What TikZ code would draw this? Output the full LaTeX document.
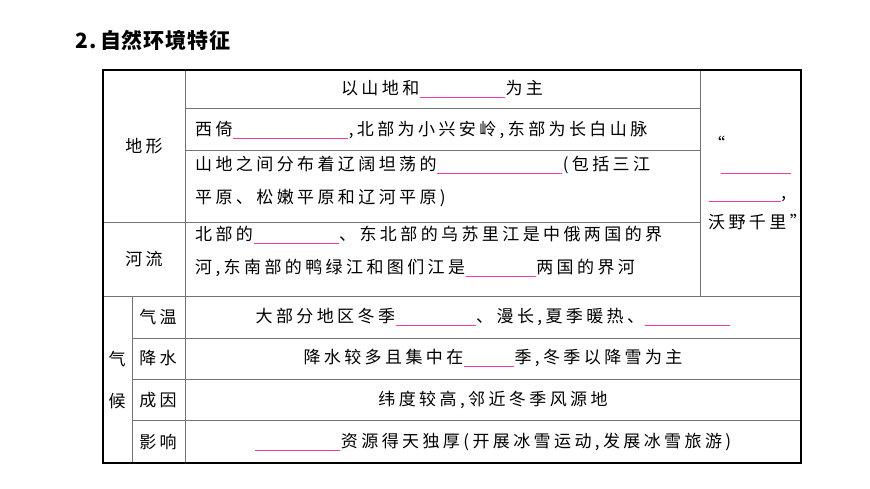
\documentclass[tikz,border=0pt]{standalone}
\usepackage{fontspec}
\setmainfont{Noto Sans CJK SC}[LetterSpace=20]
\newfontfamily\titlefont{Noto Sans CJK SC}[LetterSpace=4]
\usetikzlibrary{positioning}
\definecolor{blankpink}{RGB}{240,60,170}
\tikzstyle{cell}=[anchor=center, font=\fontsize{17}{33}\selectfont, inner sep=0pt]
\tikzstyle{rule}=[draw=black!55, line width=0.9pt]
\tikzstyle{blank}=[draw=blankpink, line width=1.2pt]
\newcommand{\gap}[1]{\tikz[baseline=0pt]\draw[blank] (0,-3pt) -- (#1,-3pt);}

\begin{document}
\begin{tikzpicture}[x=1pt,y=-1pt]
        \useasboundingbox (0,0) rectangle (870,489);
        \node (title) [anchor=west, font=\titlefont\fontsize{21}{24}\selectfont\bfseries] at (72,40) {2.\,自然环境特征};
        % inner rules
        \draw[rule] (185,70) -- (185,463);
        \draw[rule] (700,70) -- (700,296);
        \draw[rule] (132,296) -- (132,463);
        \draw[rule] (185,108) -- (700,108);
        \draw[rule] (185,150) -- (700,150);
        \draw[rule] (103,222) -- (700,222);
        \draw[rule] (103,296) -- (801,296);
        \foreach \yy in {338,379,420} \draw[rule] (132,\yy) -- (801,\yy);
        \draw[line width=1.3pt] (103,70) rectangle (801,463);
        % left headers
        \node (dixing) [cell] at (144,146) {地形};
        \node (heliu) [cell] at (144,259) {河流};
        \node (qihou) [cell, align=center, font=\fontsize{17}{42}\selectfont] at (117,380) {气\\候};
        \node (qiwen) [cell] at (158,317) {气温};
        \node (jiangshui) [cell] at (158,358) {降水};
        \node (chengyin) [cell] at (158,400) {成因};
        \node (yingxiang) [cell] at (158,442) {影响};
        % terrain
        \node (t1) [cell] at (442,89) {以山地和\gap{85}为主};
        \node (t2) [cell, anchor=west] at (195,130) {西倚\gap{115},北部为小兴安岭,东部为长白山脉};
        \node (t3) [cell, anchor=north west, align=left, text width=500] at (195,156) {山地之间分布着辽阔坦荡的\gap{125}(包括三江\\平原、松嫩平原和辽河平原)};
        \node (t4) [cell, anchor=north west, align=left, font=\fontsize{17}{30}\selectfont] at (708,136) {“\\[-10pt]\hspace{12pt}\gap{70}\\[-2pt]\gap{72},\\沃野千里”};
        % rivers
        \node (r1) [cell, anchor=north west, align=left, text width=500] at (195,226) {北部的\gap{85}、东北部的乌苏里江是中俄两国的界\\河,东南部的鸭绿江和图们江是\gap{70}两国的界河};
        % climate
        \node (c1) [cell] at (493,317) {大部分地区冬季\gap{80}、漫长,夏季暖热、\gap{85}};
        \node (c2) [cell] at (493,358) {降水较多且集中在\gap{50}季,冬季以降雪为主};
        \node (c3) [cell] at (493,400) {纬度较高,邻近冬季风源地};
        \node (c4) [cell] at (493,442) {\gap{85}资源得天独厚(开展冰雪运动,发展冰雪旅游)};
\end{tikzpicture}
\end{document}
